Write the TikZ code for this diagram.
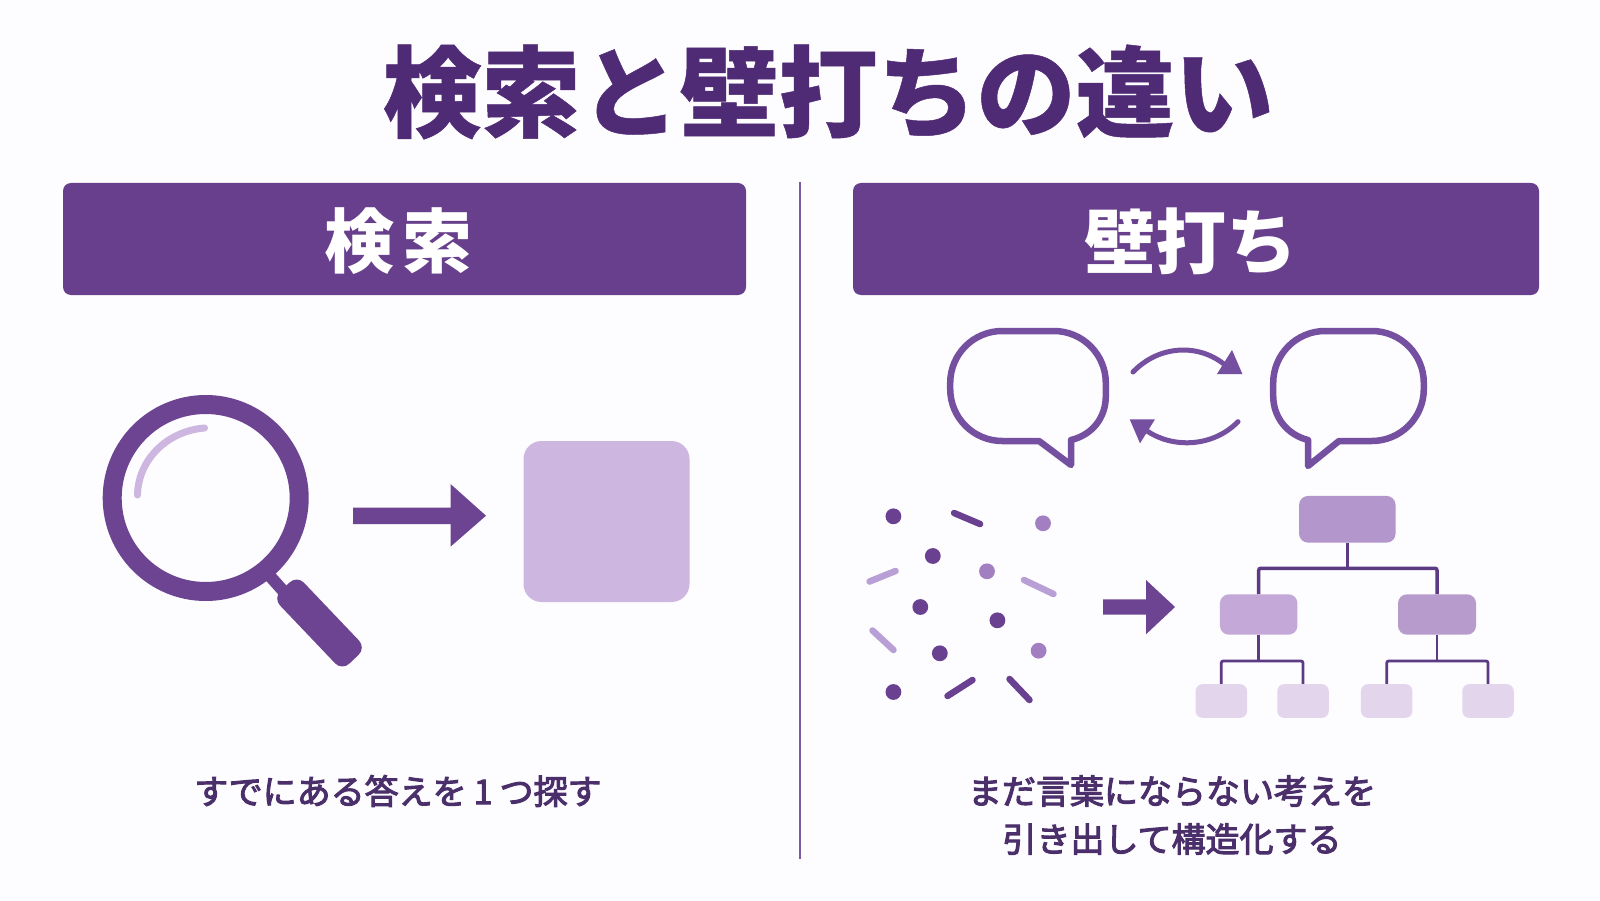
\documentclass[tikz,border=0pt]{standalone}
\usepackage{fontspec}
\setmainfont{Noto Sans CJK JP}
\newfontfamily\titlefont[BoldFeatures={FakeBold=0.5}]{Noto Sans CJK JP}
\newfontfamily\headfont[LetterSpace=12]{Noto Sans CJK JP}
\newfontfamily\capfont[FakeBold=3]{Noto Sans CJK JP}
\definecolor{page}{HTML}{FDFCFE}
\definecolor{titlecol}{HTML}{4F2A75}
\definecolor{bar}{HTML}{683F8C}
\definecolor{rule}{HTML}{7B5AA0}
\definecolor{deep}{HTML}{6C4492}
\definecolor{textcol}{HTML}{4A2F6B}
\definecolor{pale}{HTML}{CDB6DF}
\definecolor{bubbleline}{HTML}{7650A0}
\definecolor{dotdark}{HTML}{6A4090}
\definecolor{dotmid}{HTML}{A17FC0}
\definecolor{dashlight}{HTML}{B89FD6}
\definecolor{treeroot}{HTML}{B396CC}
\definecolor{treeleft}{HTML}{C4A9D8}
\definecolor{treeright}{HTML}{B79BCD}
\definecolor{treeleaf}{HTML}{E2D5EC}
\definecolor{treeline}{HTML}{5C3A84}
\tikzset{
  header/.style={fill=bar,rounded corners=8pt,inner sep=0pt,text=white,minimum height=112pt},
  caption/.style={text=textcol,font=\fontsize{34}{48}\capfont,align=center,inner sep=0pt},
  bubble/.style={draw=bubbleline,line width=6.5pt,line join=round,line cap=round},
  swing/.style={draw=bubbleline,line width=5pt,line cap=round},
  box/.style={rounded corners=#1,inner sep=0pt},
  speck/.style={line width=6.5pt,line cap=round},
  link/.style={draw=treeline,rounded corners=2pt},
}
\begin{document}
\begin{tikzpicture}[x=1pt,y=-1pt]
  \useasboundingbox (0,0) rectangle (1600,901);
  \fill [page] (0,0) rectangle (1600,901);

  % title and the two headers
  \node [text=titlecol,inner sep=0pt,font=\fontsize{99}{110}\titlefont\bfseries] (title) at (828,92) {検索と壁打ちの違い};
  \node [header,minimum width=683pt] (leftbar) at (404.5,239) {};
  \node [header,minimum width=686pt] (rightbar) at (1196,239) {};
  \node [text=white,inner sep=0pt,font=\fontsize{70}{74}\headfont\bfseries] (leftname) at (398.5,241) {検索};
  \node [text=white,inner sep=0pt,font=\fontsize{71}{74}\selectfont\bfseries] (rightname) at (1190.5,241) {壁打ち};
  \draw [rule,line width=1.8pt] (800,182) -- (800,859);

  % magnifier
  \draw [deep,line width=12pt] (268,574) -- (295,604);
  \node [fill=deep,rounded corners=10pt,inner sep=0pt,minimum width=100pt,minimum height=33pt,rotate=-46.4] (grip) at (319.5,623) {};
  \draw [deep,line width=19pt,fill=page] (205.7,498) circle (93.5);
  \draw [pale,line width=7pt,line cap=round] (204.5,428) .. controls (167,431) and (138,460) .. (137.5,495);

  % arrow to the answer
  \fill [deep] (353,507.7) -- (450.5,507.7) -- (450.5,484) -- (486,515.7) -- (450.5,546.7) -- (450.5,524) -- (353,524) -- cycle;
  \node [fill=pale,rounded corners=18pt,inner sep=0pt,minimum width=166pt,minimum height=161pt] (answer) at (606.5,521.5) {};

  % speech bubbles
  \draw [bubble] (1039,441) -- (1071,465) -- (1071,440) .. controls (1092,435) and (1105.8,418) .. (1105.8,396)
    [rounded corners=52pt] -- (1105.8,331) -- (950.2,331) -- (950.2,441) -- (1039,441);
  \draw [bubble] (1339,441) -- (1308,466) -- (1308,440) .. controls (1288,435) and (1273.2,418) .. (1273.2,396)
    [rounded corners=52pt] -- (1273.2,331) -- (1423.8,331) -- (1423.8,441) -- (1339,441);

  % exchange arrows
  \draw [swing] (1133,372) .. controls (1160,344) and (1200,344) .. (1225,365);
  \fill [bubbleline] (1232,350) -- (1242.4,374) -- (1217,374) -- cycle;
  \draw [swing] (1238,421.7) .. controls (1212,448) and (1172,448) .. (1147,431);
  \fill [bubbleline] (1129.7,419.3) -- (1155,419.3) -- (1140,443.3) -- cycle;

  % scattered dots
  \foreach \x/\y in {893.4/516.3,932.8/556,920.3/607,997.4/620.3,939.8/653.3,893.4/692}
    \fill [dotdark] (\x,\y) circle (7.9);
  \foreach \x/\y in {1043/523.3,987/571.3,1038.6/650.7}
    \fill [dotmid] (\x,\y) circle (7.9);

  % scattered dashes
  \draw [speck,dotdark] (954,513) -- (980,524);
  \draw [speck,dashlight] (869.5,581.5) -- (895.5,571);
  \draw [speck,dashlight] (1024,580) -- (1053.5,594);
  \draw [speck,dashlight] (872.5,630.5) -- (893.5,650);
  \draw [speck,dotdark] (947.5,696) -- (972.5,680);
  \draw [speck,dotdark] (1009.5,679) -- (1029.5,700);

  % arrow to the tree
  \fill [deep] (1103,599.3) -- (1146,599.3) -- (1146,580) -- (1175,607) -- (1146,634.3) -- (1146,614.7) -- (1103,614.7) -- cycle;

  % tree
  \node [box=9pt,fill=treeroot,minimum width=96.5pt,minimum height=46.7pt] (root) at (1347.3,519.3) {};
  \node [box=9pt,fill=treeleft,minimum width=77.5pt,minimum height=40.4pt] (midl) at (1258.7,614.5) {};
  \node [box=9pt,fill=treeright,minimum width=78pt,minimum height=40.4pt] (midr) at (1437,614.5) {};
  \foreach \name/\x in {leafa/1221.3,leafb/1303,leafc/1386.7,leafd/1488}
    \node [box=7pt,fill=treeleaf,minimum width=51.5pt,minimum height=33.7pt] (\name) at (\x,701) {};
  \coordinate (busa) at (1347.3,568.3);
  \coordinate (busb) at (1258.7,661);
  \coordinate (busc) at (1437,661);
  \draw [link,line width=3.5pt] (root) -- (busa);
  \draw [link,line width=3.5pt] (midl.north) |- (busa) -| (midr.north);
  \draw [link,line width=2.8pt] (midl) -- (busb);
  \draw [link,line width=2.8pt] (midr) -- (busc);
  \draw [link,line width=2.8pt] (leafa.north) |- (busb) -| (leafb.north);
  \draw [link,line width=2.8pt] (leafc.north) |- (busc) -| (leafd.north);

  % captions
  \node [caption] (lefttext) at (398,791) {すでにある答えを\hspace{7pt}1\hspace{7pt}つ探す};
  \node [caption] (righttext) at (1172,815) {まだ言葉にならない考えを\\引き出して構造化する};
\end{tikzpicture}
\end{document}
